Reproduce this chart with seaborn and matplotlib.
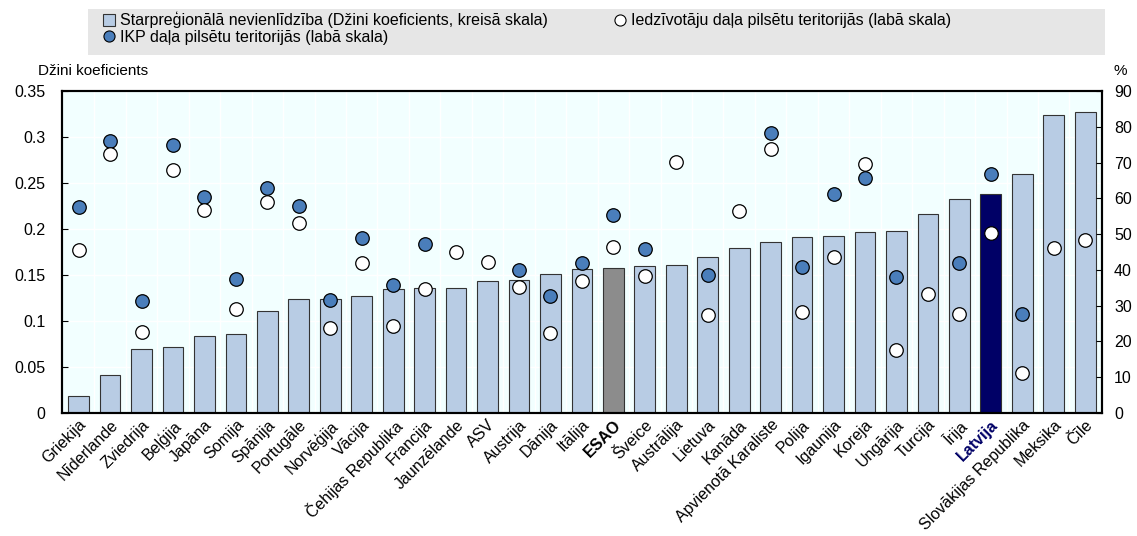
import numpy as np
import pandas as pd
import matplotlib
matplotlib.use("Agg")
import matplotlib.pyplot as plt
from matplotlib.patches import Rectangle
from matplotlib.lines import Line2D
from matplotlib.ticker import FuncFormatter
import seaborn as sns

countries = ["Griekija", "Nīderlande", "Zviedrija", "Beļģija", "Japāna", "Somija", "Spānija",
             "Portugāle", "Norvēģija", "Vācija", "Čehijas Republika", "Francija", "Jaunzēlande",
             "ASV", "Austrija", "Dānija", "Itālija", "ESAO", "Šveice", "Austrālija", "Lietuva",
             "Kanāda", "Apvienotā Karaliste", "Polija", "Igaunija", "Koreja", "Ungārija",
             "Turcija", "Īrija", "Latvija", "Slovākijas Republika", "Meksika", "Čīle"]
gini = [0.018, 0.041, 0.070, 0.072, 0.084, 0.086, 0.111, 0.124, 0.124, 0.127, 0.135, 0.136,
        0.136, 0.144, 0.145, 0.151, 0.157, 0.158, 0.160, 0.161, 0.170, 0.179, 0.186, 0.191,
        0.192, 0.197, 0.198, 0.216, 0.233, 0.238, 0.260, 0.324, 0.327]
pop_share = [45.7, 72.5, 22.6, 67.9, 56.8, 29.1, 59.1, 53.0, 23.7, 41.8, 24.2, 34.8, 44.9,
             42.2, 35.1, 22.5, 37.0, 46.5, 38.4, 70.2, 27.4, 56.6, 73.9, 28.3, 43.5, 69.6,
             17.6, 33.3, 27.6, 50.4, 11.3, 46.0, 48.4]
gdp_share = [57.5, 76.0, 31.2, 74.8, 60.3, 37.5, 63.0, 57.9, 31.5, 48.9, 35.9, 47.3, np.nan,
             np.nan, 39.9, 32.6, 41.8, 55.4, 45.9, np.nan, 38.5, np.nan, 78.2, 40.9, 61.2,
             65.7, 38.0, np.nan, 42.0, 66.9, 27.8, np.nan, np.nan]

bar_col = "#B8CCE4"
blue = "#4A7EBB"
colors = {c: bar_col for c in countries}
colors["ESAO"] = "#8C8C8C"
colors["Latvija"] = "#000066"

plt.rcParams["font.family"] = ["Liberation Sans", "DejaVu Sans"]

df = pd.DataFrame({"country": countries, "gini": gini, "pop": pop_share, "gdp": gdp_share})
df["pos"] = np.arange(len(df))

fig = plt.figure(figsize=(11.37, 5.36), dpi=100)
ax = fig.add_axes([0.0548, 0.2295, 0.914, 0.6005])
ax.set_facecolor("#F2FFFF")

sns.barplot(data=df, x="country", y="gini", hue="country", palette=colors, legend=False,
            saturation=1, width=0.66, edgecolor="#333333", linewidth=0.8, ax=ax, zorder=2)
ax.set_ylim(0, 0.35)
ax.set_xlim(-0.52, len(df) - 0.48)
ax.set_yticks(np.arange(0, 0.351, 0.05))
ax.yaxis.set_major_formatter(FuncFormatter(lambda v, p: f"{v:.2f}".rstrip("0").rstrip(".")))
ax.set_xticks(np.arange(len(df)) + 0.5, minor=True)
ax.grid(True, axis="y", which="major", color="white", linewidth=1, zorder=0)
ax.grid(True, axis="x", which="minor", color="white", linewidth=1, zorder=0)
ax.grid(False, axis="x", which="major")
ax.set_axisbelow(True)
ax.set_xlabel("")
ax.set_ylabel("")
ax.tick_params(axis="y", direction="in", length=4, labelsize=11.5, pad=12)
ax.tick_params(axis="x", which="both", length=0, labelsize=11.5, pad=3)
ax.set_xticks(np.arange(len(df)))
ax.set_xticklabels(countries, rotation=45, ha="right", rotation_mode="anchor")
for lab in ax.get_xticklabels():
    if lab.get_text() == "ESAO":
        lab.set_fontweight("bold")
    if lab.get_text() == "Latvija":
        lab.set_fontweight("bold")
        lab.set_color("#000066")
for s in ax.spines.values():
    s.set_linewidth(1.5)
    s.set_color("black")

ax2 = ax.twinx()
sns.scatterplot(data=df, x="pos", y="gdp", color=blue, edgecolor="black", linewidth=0.9,
                s=95, ax=ax2, zorder=4)
sns.scatterplot(data=df, x="pos", y="pop", color="white", edgecolor="black", linewidth=0.9,
                s=95, ax=ax2, zorder=5)
ax2.set_ylim(0, 90)
ax2.set_yticks(np.arange(0, 91, 10))
ax2.set_ylabel("")
ax2.tick_params(axis="y", direction="in", length=4, labelsize=11.5, pad=9)
for s in ax2.spines.values():
    s.set_linewidth(1.5)
ax.set_xlim(-0.52, len(df) - 0.48)

fig.text(0.033, 0.855, "Džini koeficients", fontsize=11, ha="left", va="bottom")
fig.text(0.979, 0.855, "%", fontsize=11, ha="left", va="bottom")

fig.patches.append(Rectangle((0.077, 0.897), 0.895, 0.086, transform=fig.transFigure,
                             facecolor="#E6E6E6", edgecolor="none", zorder=0))
handles = [
    Line2D([], [], marker="s", linestyle="none", markerfacecolor=bar_col,
           markeredgecolor="#333333", markersize=8, markeredgewidth=0.8),
    Line2D([], [], marker="o", linestyle="none", markerfacecolor=blue,
           markeredgecolor="black", markersize=8, markeredgewidth=0.8),
    Line2D([], [], marker="o", linestyle="none", markerfacecolor="white",
           markeredgecolor="black", markersize=8, markeredgewidth=0.8),
]
labels = ["Starpreģionālā nevienlīdzība (Džini koeficients, kreisā skala)",
          "IKP daļa pilsētu teritorijās (labā skala)",
          "Iedzīvotāju daļa pilsētu teritorijās (labā skala)"]
fig.legend(handles, labels, ncol=2, loc="upper left", bbox_to_anchor=(0.083, 0.99),
           frameon=False, fontsize=11.5, handletextpad=0.2, handlelength=1.0,
           columnspacing=4.0, labelspacing=0.1, borderaxespad=0)

fig.savefig("out.png", dpi=100)
